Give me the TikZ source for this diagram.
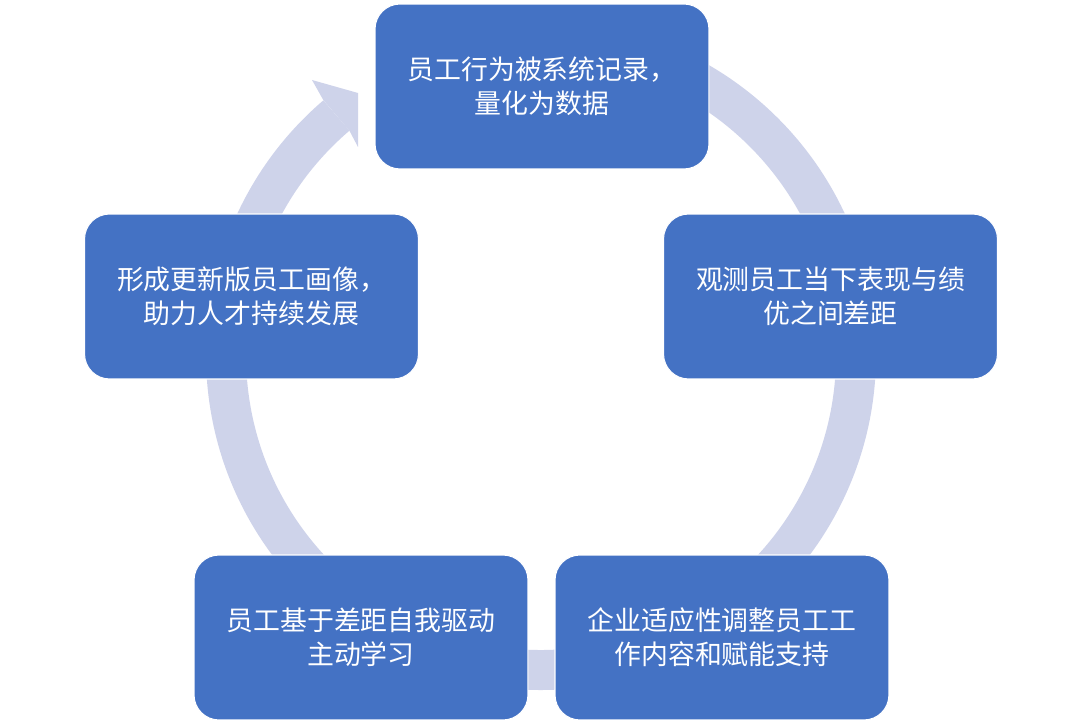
\documentclass[tikz,border=0pt]{standalone}
\usepackage{fontspec}
\newfontfamily\cjk{Noto Sans CJK SC}
\definecolor{boxblue}{RGB}{68, 114, 196}
\definecolor{ringlav}{RGB}{206, 211, 234}
\usepackage{tikz}
\usetikzlibrary{positioning, calc}
\tikzset{
  stagebox/.style={rounded corners=0.5cm, draw=white, line width=0.6pt, fill=boxblue,
    minimum width=6.68cm, minimum height=3.3cm, align=center, text=white,
    font=\cjk\fontsize{15.3}{19.4}\selectfont, inner sep=2pt},
  ringline/.style={draw=ringlav, line width=0.8cm},
}

\begin{document}
\begin{tikzpicture}[x=0.02cm, y=-0.02cm]
  \useasboundingbox (0,0) rectangle (1080,723);
  \coordinate (hub) at (541,355);
  % ring with head
  \draw[ringline] ([shift={(-95:315)}]hub) arc[start angle=-95, end angle=229.5, radius=315];
  \coordinate (hdo) at ([shift={(229.5:335)}]hub);
  \coordinate (hdi) at ([shift={(229.5:295)}]hub);
  \fill[ringlav] (hdo) -- (312,80) -- (358,93) -- (358,147) -- (hdi) -- cycle;
  % stages
  \node[stagebox] (rec) at (542,86.5) {员工行为被系统记录，\\量化为数据};
  \node[stagebox] (obs) at (830.5,296.5) {观测员工当下表现与绩\\优之间差距};
  \node[stagebox] (lrn) at (361,637.5) {员工基于差距自我驱动\\主动学习};
  \node[stagebox] (adj) [right=0.52cm of lrn] {企业适应性调整员工工\\作内容和赋能支持};
  \node[stagebox] (upd) at (251.5,296.5) {形成更新版员工画像，\\助力人才持续发展};
\end{tikzpicture}
\end{document}
